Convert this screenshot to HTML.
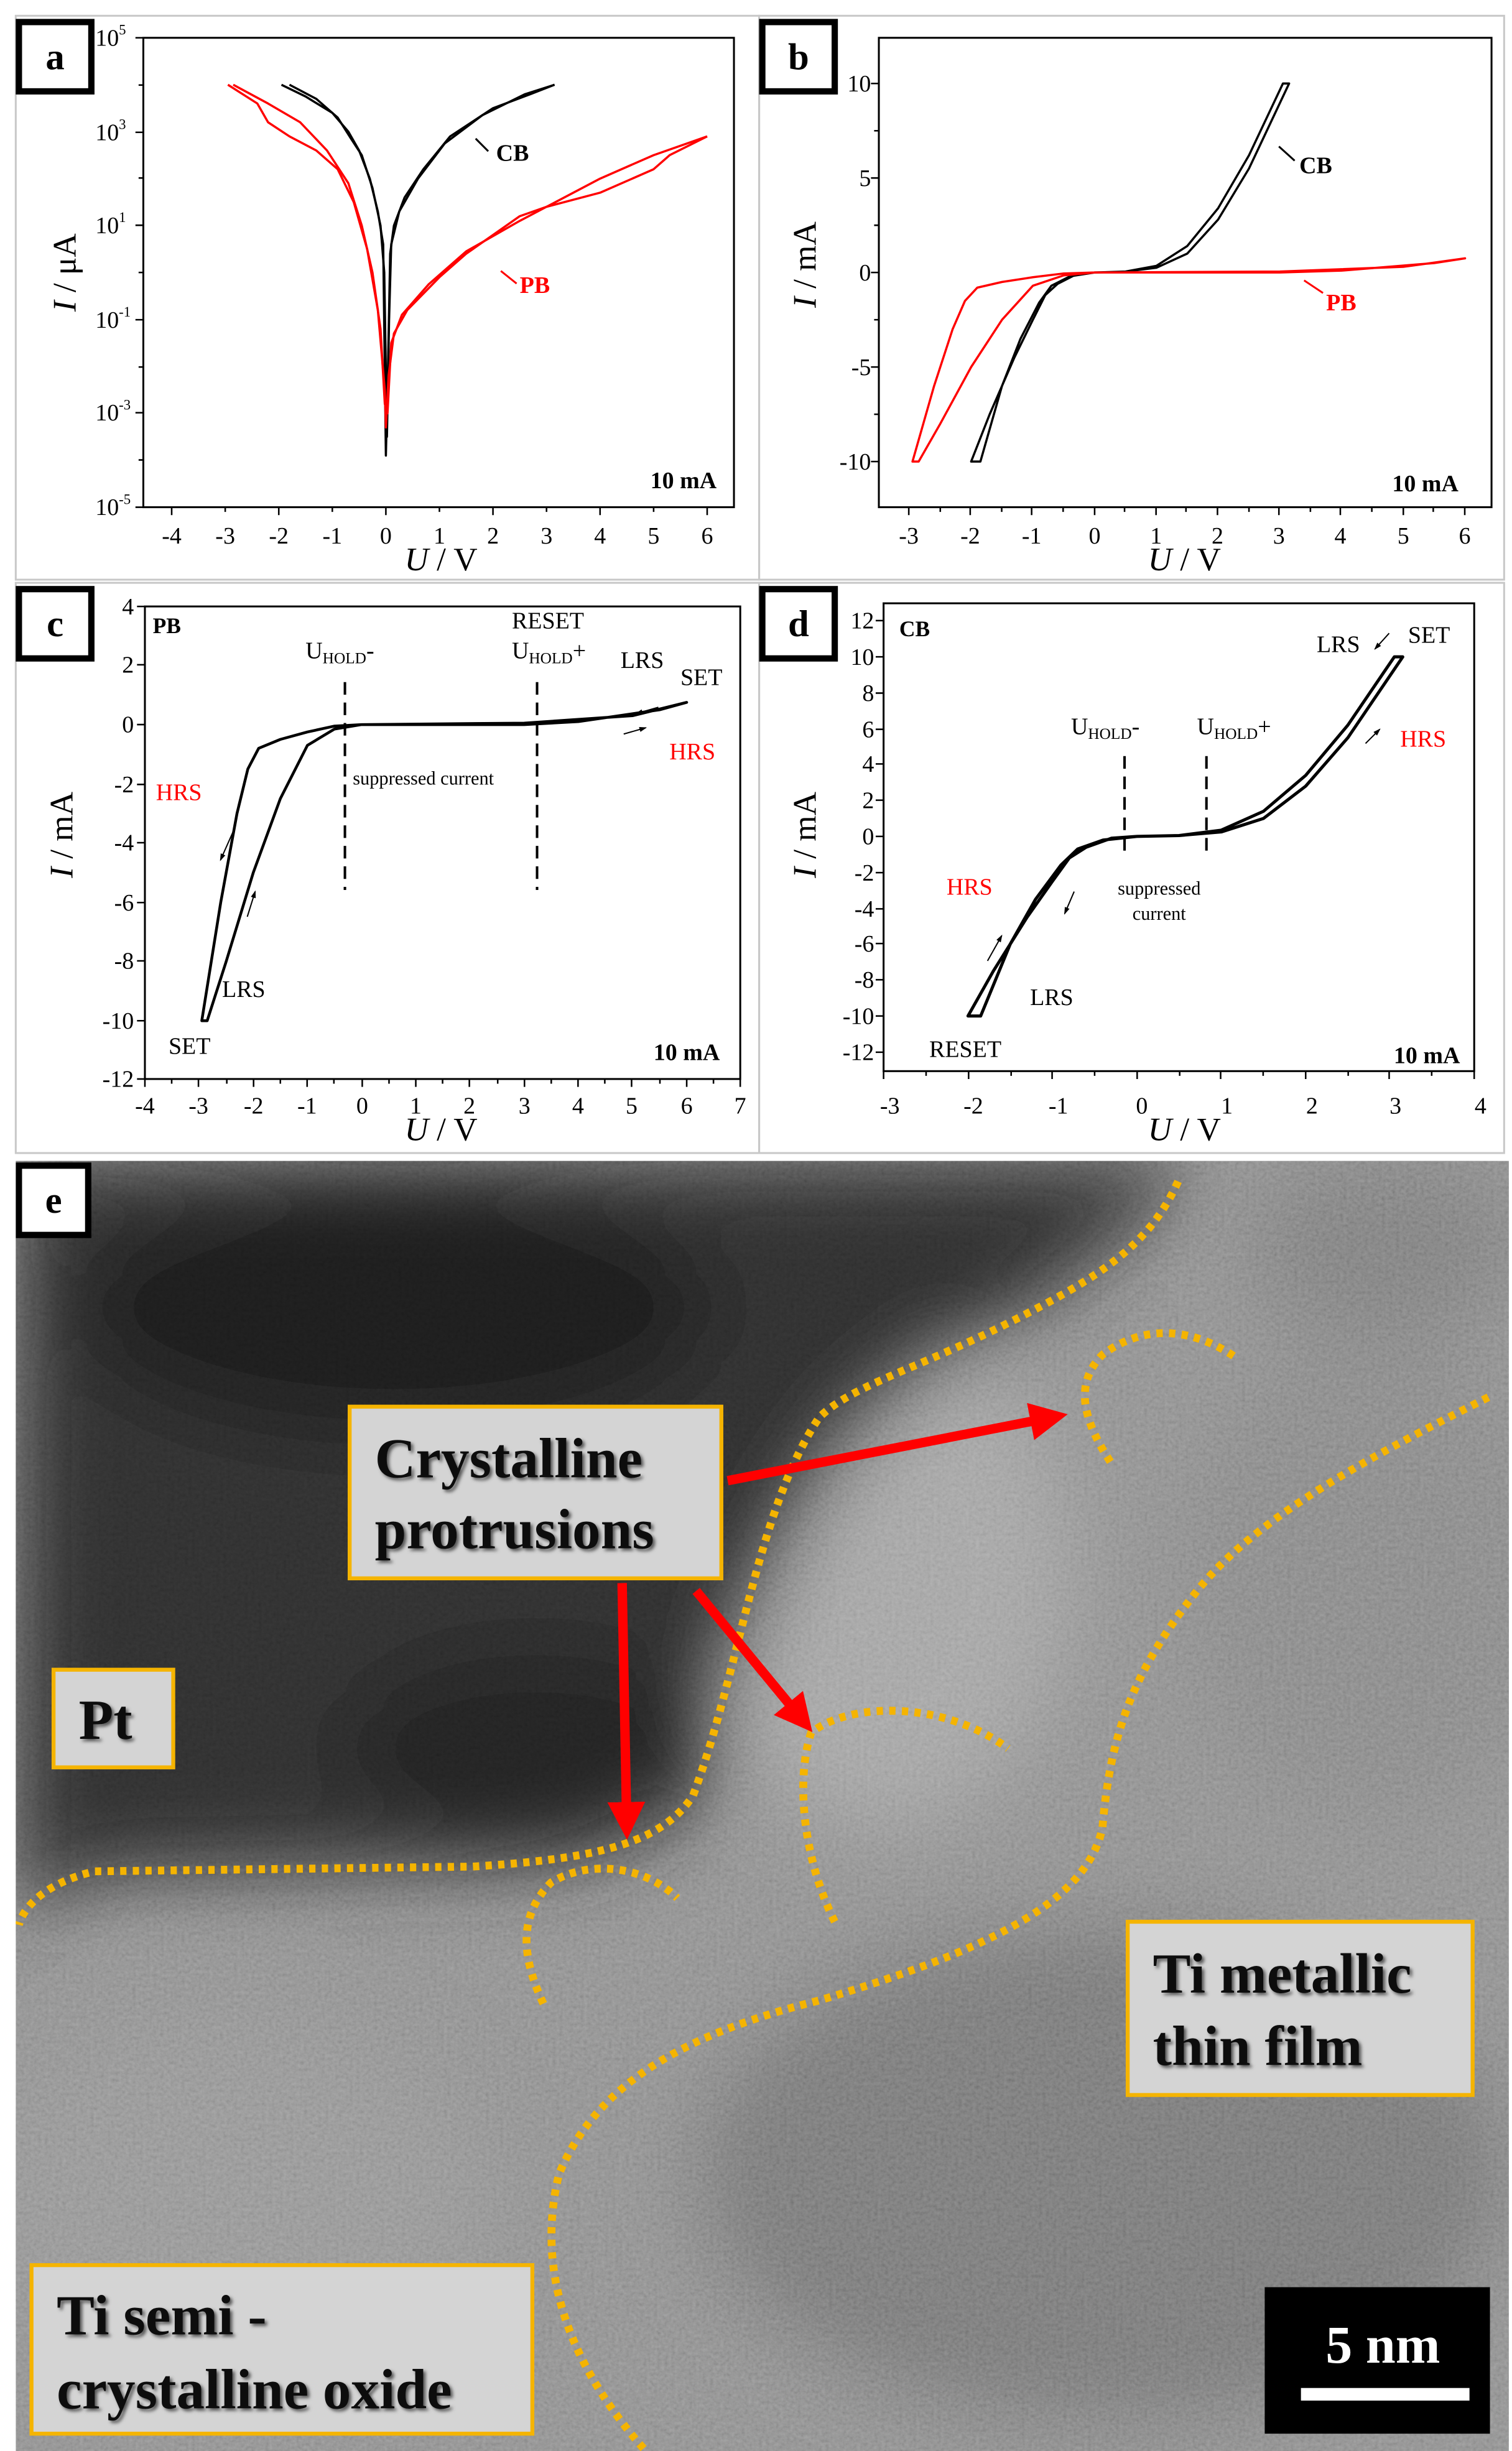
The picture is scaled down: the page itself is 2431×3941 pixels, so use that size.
<!DOCTYPE html>
<html><head><meta charset="utf-8"><style>
html,body{margin:0;padding:0;background:#fff;}
svg{display:block;}
text{font-family:"Liberation Serif",serif;}
</style></head><body>
<svg width="2431" height="3941" viewBox="0 0 960 1556" preserveAspectRatio="none" xmlns="http://www.w3.org/2000/svg">
<defs>
<filter id="nz" x="0" y="0" width="100%" height="100%">
<feTurbulence type="fractalNoise" baseFrequency="0.45" numOctaves="2" seed="3"/>
<feColorMatrix type="saturate" values="0"/>
<feComponentTransfer><feFuncA type="linear" slope="0" intercept="1"/></feComponentTransfer>
</filter>
<filter id="bl"><feGaussianBlur stdDeviation="25"/></filter>
<filter id="sh"><feDropShadow dx="1.5" dy="1.5" stdDeviation="1" flood-color="#555"/></filter>
<marker id="ar" markerWidth="4" markerHeight="4" refX="3" refY="2" orient="auto"><path d="M0,0 L4,2 L0,4 z" fill="#f00"/></marker>
<marker id="sa" markerWidth="6" markerHeight="6" refX="5" refY="3" orient="auto"><path d="M0,1 L6,3 L0,5 z" fill="#000"/></marker>
</defs>
<rect width="960" height="1556" fill="#fff"/>
<g fill="none" stroke="#c8c8c8" stroke-width="1.2">
<rect x="10" y="10" width="472" height="358"/><rect x="482" y="10" width="473" height="358"/>
<rect x="10" y="370" width="472" height="362"/><rect x="482" y="370" width="473" height="362"/>
</g>

<!-- ========== Panel a ========== -->
<rect x="12" y="14" width="46" height="44" fill="#fff" stroke="#000" stroke-width="4"/>
<text x="35" y="44" font-size="24" font-weight="bold" text-anchor="middle">a</text>
<rect x="91" y="24" width="375" height="298" fill="none" stroke="#000" stroke-width="1.2"/>
<g stroke="#000" stroke-width="1">
<path d="M109,322v5M143,322v3M177,322v5M211,322v3M245,322v5M279,322v3M313,322v5M347,322v3M381,322v5M415,322v3M449,322v5"/>
<path d="M91,24h-5M91,54h-3M91,84h-5M91,113h-3M91,143h-5M91,173h-3M91,203h-5M91,233h-3M91,262h-5M91,292h-3M91,322h-5"/>
</g>
<g font-size="15" text-anchor="middle">
<text x="109" y="345">-4</text><text x="143" y="345">-3</text><text x="177" y="345">-2</text><text x="211" y="345">-1</text><text x="245" y="345">0</text><text x="279" y="345">1</text><text x="313" y="345">2</text><text x="347" y="345">3</text><text x="381" y="345">4</text><text x="415" y="345">5</text><text x="449" y="345">6</text>
</g>
<g font-size="15" text-anchor="end">
<text x="80" y="29">10<tspan font-size="9" dy="-7">5</tspan></text>
<text x="80" y="89">10<tspan font-size="9" dy="-7">3</tspan></text>
<text x="80" y="148">10<tspan font-size="9" dy="-7">1</tspan></text>
<text x="83" y="208">10<tspan font-size="9" dy="-7">-1</tspan></text>
<text x="83" y="267">10<tspan font-size="9" dy="-7">-3</tspan></text>
<text x="83" y="327">10<tspan font-size="9" dy="-7">-5</tspan></text>
</g>
<text x="280" y="362" font-size="21" text-anchor="middle"><tspan font-style="italic">U</tspan> / V</text>
<text transform="translate(48,173) rotate(-90)" font-size="21" text-anchor="middle"><tspan font-style="italic">I</tspan> / μA</text>
<text x="455" y="310" font-size="15" font-weight="bold" text-anchor="end">10 mA</text>
<g transform="translate(245,173) scale(34,-29.8)" fill="none" stroke-width="3.5" stroke-linejoin="round">
<polyline vector-effect="non-scaling-stroke" stroke="#000" points="-1.95,4 -1.5,3.75 -1,3.4 -0.7,3.0 -0.5,2.6 -0.3,2.0 -0.15,1.3 -0.05,0.6 0,-3.9 0.04,-2 0.08,0.4 0.15,1 0.35,1.6 0.7,2.2 1.2,2.9 2,3.5 2.7,3.8 3.15,4"/>
<polyline vector-effect="non-scaling-stroke" stroke="#000" points="-1.8,4 -1.3,3.7 -0.9,3.3 -0.65,2.85 -0.45,2.5 -0.25,1.8 -0.1,1 -0.03,0 0.02,-3.5 0.06,-1 0.1,0.6 0.25,1.3 0.6,2 1.1,2.75 1.8,3.35 2.6,3.8 3.15,4"/>
<polyline vector-effect="non-scaling-stroke" stroke="#f00" points="-2.95,4 -2.4,3.6 -2.2,3.2 -1.8,2.9 -1.3,2.6 -0.9,2.2 -0.6,1.5 -0.35,0.5 -0.15,-0.8 -0.02,-2.5 0,-3.3 0.05,-2.2 0.15,-1.3 0.4,-0.8 1,-0.1 1.5,0.4 2,0.8 2.5,1.2 3,1.4 4,1.7 5,2.2 5.3,2.5 6,2.9"/>
<polyline vector-effect="non-scaling-stroke" stroke="#f00" points="-2.85,4 -2.2,3.6 -1.6,3.2 -1.1,2.6 -0.7,1.9 -0.45,1 -0.25,0 -0.1,-1.2 -0.02,-2.8 0.03,-3 0.1,-1.5 0.3,-0.9 0.8,-0.25 1.5,0.45 2.5,1.1 3,1.4 4,2.0 5,2.5 6,2.9"/>
</g>
<path d="M302,88 l8,8" stroke="#000" stroke-width="1.2"/>
<text x="315" y="102" font-size="15" font-weight="bold">CB</text>
<path d="M318,172 l10,8" stroke="#f00" stroke-width="1.2"/>
<text x="330" y="186" font-size="15" font-weight="bold" fill="#f00">PB</text>

<!-- ========== Panel b ========== -->
<rect x="484" y="14" width="46" height="44" fill="#fff" stroke="#000" stroke-width="4"/>
<text x="507" y="44" font-size="24" font-weight="bold" text-anchor="middle">b</text>
<rect x="558" y="24" width="389" height="298" fill="none" stroke="#000" stroke-width="1.2"/>
<g stroke="#000" stroke-width="1">
<path d="M577,322v5M597,322v3M616,322v5M636,322v3M655,322v5M675,322v3M695,322v5M714,322v3M734,322v5M753,322v3M773,322v5M793,322v3M812,322v5M832,322v3M851,322v5M871,322v3M891,322v5M910,322v3M930,322v5"/>
<path d="M558,53h-5M558,83h-3M558,113h-5M558,143h-3M558,173h-5M558,203h-3M558,233h-5M558,263h-3M558,293h-5"/>
</g>
<g font-size="15" text-anchor="middle">
<text x="577" y="345">-3</text><text x="616" y="345">-2</text><text x="655" y="345">-1</text><text x="695" y="345">0</text><text x="734" y="345">1</text><text x="773" y="345">2</text><text x="812" y="345">3</text><text x="851" y="345">4</text><text x="891" y="345">5</text><text x="930" y="345">6</text>
</g>
<g font-size="15" text-anchor="end">
<text x="553" y="58">10</text><text x="553" y="118">5</text><text x="553" y="178">0</text><text x="553" y="238">-5</text><text x="553" y="298">-10</text>
</g>
<text x="752" y="362" font-size="21" text-anchor="middle"><tspan font-style="italic">U</tspan> / V</text>
<text transform="translate(518,168) rotate(-90)" font-size="21" text-anchor="middle"><tspan font-style="italic">I</tspan> / mA</text>
<text x="926" y="312" font-size="15" font-weight="bold" text-anchor="end">10 mA</text>
<g transform="translate(695,173) scale(39.2,-12)" fill="none" stroke-width="3.5" stroke-linejoin="round">
<polygon vector-effect="non-scaling-stroke" stroke="#000" points="-2,-10 -1.7,-7.5 -1.3,-4.5 -1,-2.5 -0.8,-1.2 -0.6,-0.6 -0.3,-0.1 0,0 0.5,0.05 1,0.25 1.5,1 2,2.8 2.5,5.5 3.15,10 3.05,10 2.5,6.2 2,3.4 1.5,1.4 1,0.35 0.5,0.05 0,0 -0.4,-0.2 -0.7,-0.7 -0.9,-1.6 -1.2,-3.5 -1.5,-6 -1.85,-10"/>
<polygon vector-effect="non-scaling-stroke" stroke="#f00" points="-2.95,-10 -2.6,-6 -2.3,-3 -2.1,-1.5 -1.9,-0.8 -1.5,-0.5 -1,-0.25 -0.5,-0.05 0,0 3,0.05 5,0.3 6,0.75 5.5,0.5 4,0.1 3,0 0,0 -0.5,-0.15 -1,-0.7 -1.5,-2.5 -2,-5 -2.5,-8 -2.85,-10"/>
</g>
<path d="M812,93 l10,9" stroke="#000" stroke-width="1.2"/>
<text x="825" y="110" font-size="15" font-weight="bold">CB</text>
<path d="M828,178 l12,8" stroke="#f00" stroke-width="1.2"/>
<text x="842" y="197" font-size="15" font-weight="bold" fill="#f00">PB</text>

<!-- ========== Panel c ========== -->
<rect x="12" y="374" width="46" height="44" fill="#fff" stroke="#000" stroke-width="4"/>
<text x="35" y="404" font-size="24" font-weight="bold" text-anchor="middle">c</text>
<rect x="92" y="385" width="378" height="300" fill="none" stroke="#000" stroke-width="1.2"/>
<g stroke="#000" stroke-width="1">
<path d="M92,685v5M109,685v3M126,685v5M144,685v3M161,685v5M178,685v3M195,685v5M212,685v3M230,685v5M247,685v3M264,685v5M281,685v3M298,685v5M316,685v3M333,685v5M350,685v3M367,685v5M384,685v3M401,685v5M419,685v3M436,685v5M453,685v3M470,685v5"/>
<path d="M92,385h-5M92,422h-5M92,460h-5M92,498h-5M92,535h-5M92,573h-5M92,610h-5M92,648h-5M92,685h-5"/>
</g>
<g font-size="15" text-anchor="middle">
<text x="92" y="707">-4</text><text x="126" y="707">-3</text><text x="161" y="707">-2</text><text x="195" y="707">-1</text><text x="230" y="707">0</text><text x="264" y="707">1</text><text x="298" y="707">2</text><text x="333" y="707">3</text><text x="367" y="707">4</text><text x="401" y="707">5</text><text x="436" y="707">6</text><text x="470" y="707">7</text>
</g>
<g font-size="15" text-anchor="end">
<text x="85" y="390">4</text><text x="85" y="427">2</text><text x="85" y="465">0</text><text x="85" y="503">-2</text><text x="85" y="540">-4</text><text x="85" y="578">-6</text><text x="85" y="615">-8</text><text x="85" y="653">-10</text><text x="85" y="690">-12</text>
</g>
<text x="280" y="724" font-size="21" text-anchor="middle"><tspan font-style="italic">U</tspan> / V</text>
<text transform="translate(46,530) rotate(-90)" font-size="21" text-anchor="middle"><tspan font-style="italic">I</tspan> / mA</text>
<text x="457" y="673" font-size="15" font-weight="bold" text-anchor="end">10 mA</text>
<text x="97" y="402" font-size="14" font-weight="bold">PB</text>
<g transform="translate(229.6,460) scale(34.4,-18.8)" fill="none" stroke-width="4.5" stroke-linejoin="round">
<polygon vector-effect="non-scaling-stroke" stroke="#000" points="-2.95,-10 -2.6,-6 -2.3,-3 -2.1,-1.5 -1.9,-0.8 -1.5,-0.5 -1,-0.25 -0.5,-0.05 0,0 3,0.05 5,0.3 6,0.75 5.5,0.5 4,0.1 3,0 0,0 -0.5,-0.15 -1,-0.7 -1.5,-2.5 -2,-5 -2.5,-8 -2.85,-10"/>
</g>
<g stroke="#000" stroke-width="1.6" stroke-dasharray="8,5"><path d="M219,433V565M341,433V565"/></g>
<text x="194" y="418" font-size="15">U<tspan font-size="10" dy="3">HOLD</tspan><tspan dy="-3">-</tspan></text>
<text x="325" y="399" font-size="15">RESET</text>
<text x="325" y="418" font-size="15">U<tspan font-size="10" dy="3">HOLD</tspan><tspan dy="-3">+</tspan></text>
<text x="224" y="498" font-size="12">suppressed current</text>
<text x="394" y="424" font-size="15">LRS</text>
<text x="432" y="435" font-size="15">SET</text>
<text x="425" y="482" font-size="15" fill="#f00">HRS</text>
<text x="99" y="508" font-size="15" fill="#f00">HRS</text>
<text x="141" y="633" font-size="15">LRS</text>
<text x="107" y="669" font-size="15">SET</text>
<g stroke="#000" stroke-width="0.8" marker-end="url(#sa)"><path d="M418,449l-14,4"/><path d="M396,466l14,-4"/><path d="M148,528l-8,18"/><path d="M157,582l5,-16"/></g>

<!-- ========== Panel d ========== -->
<rect x="484" y="374" width="46" height="44" fill="#fff" stroke="#000" stroke-width="4"/>
<text x="507" y="404" font-size="24" font-weight="bold" text-anchor="middle">d</text>
<rect x="561" y="383" width="375" height="297" fill="none" stroke="#000" stroke-width="1.2"/>
<g stroke="#000" stroke-width="1">
<path d="M561,680v5M588,680v3M615,680v5M642,680v3M668,680v5M695,680v3M722,680v5M749,680v3M775,680v5M802,680v3M829,680v5M856,680v3M882,680v5M909,680v3M936,680v5"/>
<path d="M561,394h-5M561,417h-5M561,440h-5M561,463h-5M561,485h-5M561,508h-5M561,531h-5M561,554h-5M561,577h-5M561,599h-5M561,622h-5M561,645h-5M561,668h-5"/>
</g>
<g font-size="15" text-anchor="middle">
<text x="565" y="707">-3</text><text x="618" y="707">-2</text><text x="672" y="707">-1</text><text x="725" y="707">0</text><text x="779" y="707">1</text><text x="833" y="707">2</text><text x="886" y="707">3</text><text x="940" y="707">4</text>
</g>
<g font-size="15" text-anchor="end">
<text x="555" y="399">12</text><text x="555" y="422">10</text><text x="555" y="445">8</text><text x="555" y="468">6</text><text x="555" y="490">4</text><text x="555" y="513">2</text><text x="555" y="536">0</text><text x="555" y="559">-2</text><text x="555" y="582">-4</text><text x="555" y="604">-6</text><text x="555" y="627">-8</text><text x="555" y="650">-10</text><text x="555" y="673">-12</text>
</g>
<text x="752" y="724" font-size="21" text-anchor="middle"><tspan font-style="italic">U</tspan> / V</text>
<text transform="translate(518,530) rotate(-90)" font-size="21" text-anchor="middle"><tspan font-style="italic">I</tspan> / mA</text>
<text x="927" y="675" font-size="15" font-weight="bold" text-anchor="end">10 mA</text>
<text x="571" y="404" font-size="14" font-weight="bold">CB</text>
<g transform="translate(721.8,531) scale(53.6,-11.4)" fill="none" stroke-width="5" stroke-linejoin="round">
<polygon vector-effect="non-scaling-stroke" stroke="#000" points="-2,-10 -1.7,-7.5 -1.3,-4.5 -1,-2.5 -0.8,-1.2 -0.6,-0.6 -0.3,-0.1 0,0 0.5,0.05 1,0.25 1.5,1 2,2.8 2.5,5.5 3.15,10 3.05,10 2.5,6.2 2,3.4 1.5,1.4 1,0.35 0.5,0.05 0,0 -0.4,-0.2 -0.7,-0.7 -0.9,-1.6 -1.2,-3.5 -1.5,-6 -1.85,-10"/>
</g>
<g stroke="#000" stroke-width="1.6" stroke-dasharray="8,5"><path d="M714,480V545M766,480V545"/></g>
<text x="680" y="466" font-size="15">U<tspan font-size="10" dy="3">HOLD</tspan><tspan dy="-3">-</tspan></text>
<text x="760" y="466" font-size="15">U<tspan font-size="10" dy="3">HOLD</tspan><tspan dy="-3">+</tspan></text>
<text x="736" y="568" font-size="12" text-anchor="middle">suppressed</text>
<text x="736" y="584" font-size="12" text-anchor="middle">current</text>
<text x="836" y="414" font-size="15">LRS</text>
<text x="894" y="408" font-size="15">SET</text>
<text x="889" y="474" font-size="15" fill="#f00">HRS</text>
<text x="601" y="568" font-size="15" fill="#f00">HRS</text>
<text x="654" y="638" font-size="15">LRS</text>
<text x="590" y="671" font-size="15">RESET</text>
<g stroke="#000" stroke-width="0.8" marker-end="url(#sa)"><path d="M882,402l-9,10"/><path d="M867,472l9,-9"/><path d="M682,566l-6,14"/><path d="M627,610l9,-16"/></g>

<!-- ========== Panel e ========== -->
<svg x="10" y="737" width="948" height="819" viewBox="10 737 948 819" overflow="hidden">
<rect x="10" y="737" width="948" height="819" fill="#8c8c8c"/>
<g filter="url(#bl)">
<ellipse cx="700" cy="1380" rx="260" ry="160" fill="#767676"/>
<ellipse cx="150" cy="1400" rx="160" ry="120" fill="#929292"/>
<ellipse cx="870" cy="1000" rx="120" ry="160" fill="#858585"/>
<ellipse cx="560" cy="1000" rx="120" ry="160" fill="#a0a0a0"/>
<path d="M10,737 H760 C720,790 620,850 560,900 C500,960 470,1060 440,1130 C420,1170 380,1185 300,1185 L60,1190 L10,1220 Z" fill="#2e2e2e"/>
<ellipse cx="250" cy="830" rx="200" ry="80" fill="#1e1e1e"/>
<ellipse cx="340" cy="1110" rx="120" ry="60" fill="#222"/>
<ellipse cx="880" cy="790" rx="90" ry="60" fill="#7c7c7c"/>
</g>
<rect x="10" y="737" width="948" height="819" filter="url(#nz)" opacity="0.25" style="mix-blend-mode:overlay"/>
<g fill="none" stroke="#f5b400" stroke-width="5" stroke-dasharray="4,4">
<path d="M748,750 C730,790 700,810 640,840 C580,870 540,880 520,900 C480,960 470,1060 440,1140 C420,1170 380,1180 300,1185 L60,1188 C30,1195 15,1210 12,1222"/>
<path d="M945,887 C880,920 800,960 760,1010 C720,1060 705,1100 700,1160 C690,1210 620,1240 520,1270 C440,1290 380,1320 355,1380 C340,1440 360,1500 410,1556"/>
<path d="M705,928 C690,905 680,880 700,860 C720,845 750,838 785,862"/>
<path d="M530,1220 C510,1180 505,1130 515,1100 C540,1080 600,1080 640,1110"/>
<path d="M345,1272 C330,1240 330,1215 350,1195 C375,1180 410,1185 430,1205"/>
</g>
<g stroke="#f00" stroke-width="6" fill="none" marker-end="url(#ar)">
<path d="M462,940 L672,899"/><path d="M395,1005 L398,1162"/><path d="M442,1010 L512,1095"/>
</g>
<g fill="#d4d4d4" stroke="#f5b400" stroke-width="2.5">
<rect x="222" y="893" width="236" height="109"/>
<rect x="34" y="1060" width="76" height="62"/>
<rect x="716" y="1220" width="219" height="110"/>
<rect x="20" y="1438" width="318" height="107"/>
</g>
<g font-weight="bold" font-size="36" fill="#111" filter="url(#sh)">
<text x="238" y="938">Crystalline</text><text x="238" y="983">protrusions</text>
<text x="50" y="1104">Pt</text>
<text x="732" y="1265">Ti metallic</text><text x="732" y="1311">thin film</text>
<text x="36" y="1482">Ti semi -</text><text x="36" y="1529">crystalline oxide</text>
</g>
<rect x="803" y="1452" width="143" height="93" fill="#000"/>
<text x="878" y="1500" font-size="34" font-weight="bold" fill="#fff" text-anchor="middle">5 nm</text>
<rect x="826" y="1516" width="107" height="8" fill="#fff"/>
<rect x="12" y="740" width="44" height="44" fill="#fff" stroke="#000" stroke-width="4"/>
<text x="34" y="770" font-size="24" font-weight="bold" text-anchor="middle">e</text>
</svg>
</svg>
</body></html>
